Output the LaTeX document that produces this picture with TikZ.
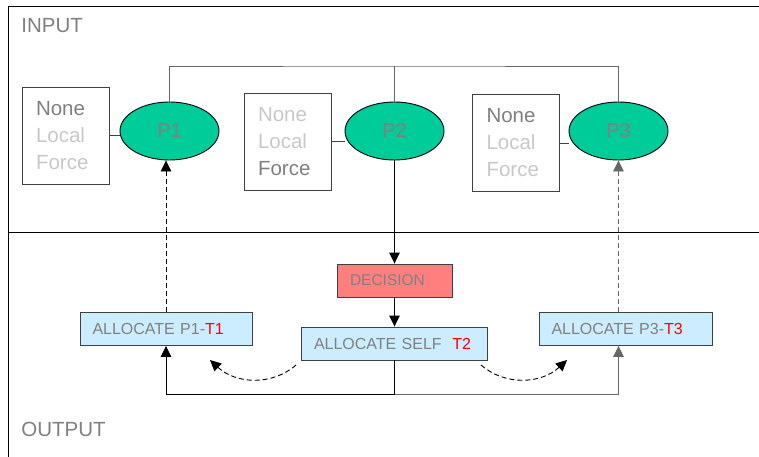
\documentclass[tikz,border=0pt]{standalone}
\usepackage{fontspec}
\setmainfont{Liberation Sans}
\usetikzlibrary{shapes.geometric,arrows.meta}
\definecolor{procgreen}{HTML}{00CC99}
\definecolor{txtgray}{HTML}{808080}
\definecolor{ltgray}{HTML}{C8C8C8}
\definecolor{decred}{HTML}{FF7F7F}
\definecolor{allocblue}{HTML}{CCECFF}
\definecolor{edgegray}{HTML}{404040}
\definecolor{linegray}{HTML}{666666}

\begin{document}
\begin{tikzpicture}[x=1pt,y=-1pt,line width=0.9pt,
  proc/.style={ellipse,draw=black,fill=procgreen,minimum width=99pt,minimum height=58pt,inner sep=0pt,text=txtgray,font=\fontsize{20}{24}\selectfont},
  mode/.style={draw=edgegray,text width=59pt,inner xsep=14pt,minimum height=97pt,align=left,text=ltgray,font=\fontsize{20.5}{27}\selectfont},
  alloc/.style={draw=edgegray,fill=allocblue,inner xsep=12.5pt,minimum height=33pt,align=left,text=txtgray,font=\fontsize{16}{18}\selectfont},
  arr/.style={-{Triangle[width=10.5pt,length=11pt]}},
  dashline/.style={dash pattern=on 5pt off 3pt},
  lbl/.style={anchor=west,inner sep=0pt,text=txtgray,font=\fontsize{20.5}{24}\selectfont}]
\useasboundingbox (0,0) rectangle (759,457);
%\draw (0,0) to[grid with coordinates] (759,457);
\draw (8,6) -- (759,6);
\draw (8,6) -- (8,457);
\draw (8,232) -- (759,232);
\node[lbl] (inp) at (21,26) {INPUT};
\node[lbl] (outp) at (21,429.5) {OUTPUT};
\node[mode] (m1) at (65.5,135.5) {\textcolor{txtgray}{None}\\Local\\Force};
\node[mode] (m2) at (287.5,141.5) {None\\Local\\\textcolor{txtgray}{Force}};
\node[mode] (m3) at (516,143) {\textcolor{txtgray}{None}\\Local\\Force};
\node[proc] (p1) at (169.5,131) {P1};
\node[proc] (p2) at (394.5,131) {P2};
\node[proc] (p3) at (618.5,131) {P3};
\node[draw=edgegray,fill=decred,text width=89pt,inner xsep=13pt,minimum height=33pt,align=left,text=txtgray,font=\fontsize{15.5}{18}\selectfont] (dec) at (394.5,280.5) {DECISION};
\node[alloc,text width=147pt] (a1) at (166,329) {ALLOCATE P1-\textcolor{red}{T1}};
\node[alloc,text width=161pt] (a2) at (394.5,343.5) {ALLOCATE SELF\ \ \textcolor{red}{T2}};
\node[alloc,text width=148pt] (a3) at (625.5,329) {ALLOCATE P3-\textcolor{red}{T3}};
\coordinate (top) at (394.5,66);
\coordinate (bot) at (394.5,394);
\draw[linegray] (p1.north) |- (top) -| (p3.north);
\draw[linegray] (p2.north) -- (top);
\draw[edgegray] (m1.east) -- (m1.east -| p1.west);
\draw[edgegray] (m2.east) -- (m2.east -| p2.west);
\draw[edgegray] (m3.east) -- (m3.east -| p3.west);
\draw[arr] (p2.south) -- (dec.north);
\draw[arr] (dec.south) -- (a2.north);
\draw (a2.south) -- (bot);
\draw[arr] (bot) -| (a1.south);
\draw[arr,linegray] (bot) -| (a3.south -| p3.south);
\draw[arr,dashline] (a1.north) -- (a1.north |- p1.south);
\draw[arr,dashline,linegray] (a3.north -| p3.south) -- (p3.south);
\coordinate (l1) at (296,365);
\coordinate (l2) at (210,360);
\coordinate (r1) at (481,365);
\coordinate (r2) at (567,360);
\draw[arr,dashline] (l1) .. controls (272,386) and (236,384) .. (l2);
\draw[arr,dashline] (r1) .. controls (505,386) and (541,384) .. (r2);
\end{tikzpicture}
\end{document}
